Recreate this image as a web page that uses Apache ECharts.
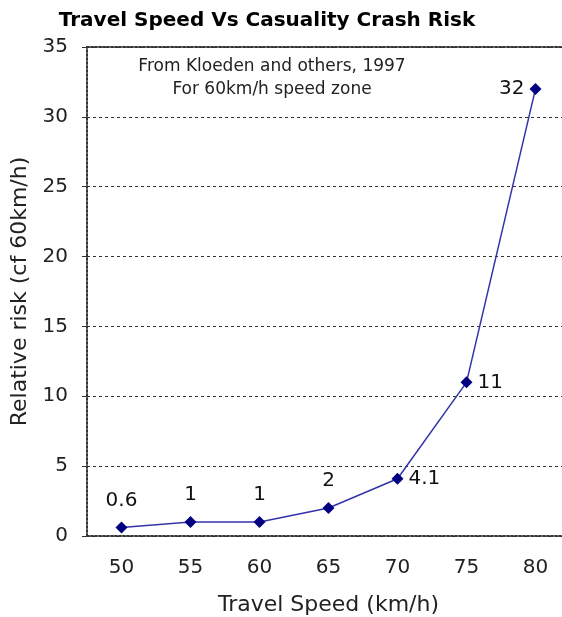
<!DOCTYPE html>
<html><head><meta charset="utf-8">
<script src="https://cdn.jsdelivr.net/npm/echarts@6/dist/echarts.min.js"></script>
<style>html,body{margin:0;padding:0;background:#fff}#c{width:562px;height:617px}</style>
</head><body><div id="c"></div>
<script>
var categories = ['50','55','60','65','70','75','80'];
var riskValues = [0.6, 1, 1, 2, 4.1, 11, 32];
var labelPositions = ['top','top','top','top','right','right','left'];

var chart = echarts.init(document.getElementById('c'), null, {renderer:'canvas'});
var font = 'DejaVu Sans, Verdana, sans-serif';
chart.setOption({
  animation:false,
  backgroundColor:'#fff',
  title:{text:'Travel Speed Vs Casuality Crash Risk', left:262, textAlign:'center', top:6,
    textStyle:{fontFamily:font, fontWeight:'bold', fontSize:20, color:'#000'}},
  graphic:[
    {type:'text', x:272, y:55, style:{text:'From Kloeden and others, 1997\nFor 60km/h speed zone', fontFamily:font, fontSize:17, lineHeight:23, align:'center', verticalAlign:'top', fill:'#222'}}
  ],
  grid:{left:87, width:483, top:47, height:489, containLabel:false, outerBoundsMode:'none'},
  xAxis:[{type:'category', data:categories, boundaryGap:true,
    axisLine:{lineStyle:{color:'#333', type:'dotted', width:2}},
    axisTick:{show:false},
    axisLabel:{fontFamily:font, fontSize:20, color:'#222', margin:22},
    name:'Travel Speed (km/h)', nameLocation:'middle', nameGap:58,
    nameTextStyle:{fontFamily:font, fontSize:22, color:'#222'}
  },{type:'category', data:categories, position:'top',
    axisLine:{lineStyle:{color:'#333', type:'dotted', width:2}},
    axisTick:{show:false}, axisLabel:{show:false}}],
  yAxis:{type:'value', min:0, max:35, interval:5,
    axisLine:{show:true, lineStyle:{color:'#333', type:'dotted', width:2}},
    axisTick:{show:true, length:5, lineStyle:{color:'#333'}},
    axisLabel:{fontFamily:font, fontSize:20, color:'#222', margin:19},
    splitLine:{lineStyle:{color:'#333', type:[3,3], width:1}},
    name:'Relative risk (cf 60km/h)', nameLocation:'middle', nameGap:51,
    nameTextStyle:{fontFamily:font, fontSize:22, color:'#222'}
  },
  series:[{type:'line', data:riskValues.map(function(v,i){
      var p = labelPositions[i];
      return {value:v, label:{position:p, distance:(p==='top'?11:5)}};
    }),
    symbol:'diamond', symbolSize:12,
    lineStyle:{color:'#3333aa', width:1.5},
    itemStyle:{color:'#000080'},
    label:{show:true, fontFamily:font, fontSize:20, color:'#111'}
  }]
});
</script></body></html>
